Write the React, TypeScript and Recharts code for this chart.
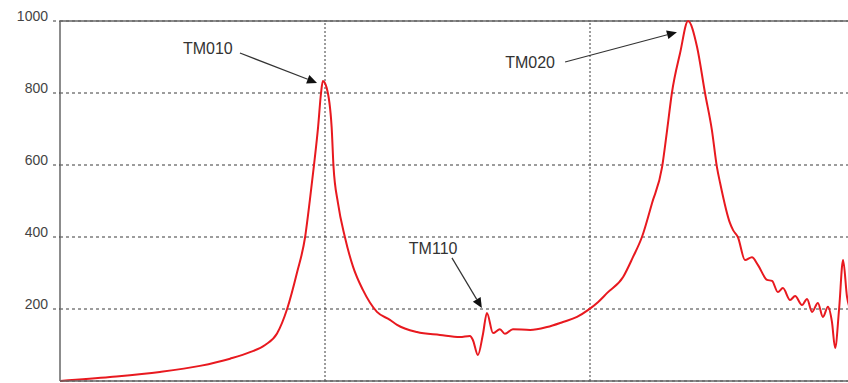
import React from 'react';
import {
  LineChart,
  Line,
  XAxis,
  YAxis,
  CartesianGrid,
  ReferenceLine,
  ReferenceDot,
} from 'recharts';

// sweep position (grid divisions) and response amplitude
const freq = [
  0, 0.189, 0.377, 0.528, 0.642, 0.717, 0.774, 0.819, 0.857, 0.894, 0.925, 0.943, 0.958, 0.974, 0.985, 0.992,
  1.006, 1.025, 1.032, 1.049, 1.075, 1.106, 1.143, 1.196, 1.245, 1.272, 1.347, 1.434, 1.509, 1.547,
  1.558, 1.577, 1.596, 1.611, 1.634, 1.66, 1.679, 1.709, 1.774, 1.838, 1.898, 1.951, 1.992, 2.03, 2.064,
  2.125, 2.162, 2.196, 2.234, 2.272, 2.291, 2.309, 2.34, 2.37, 2.404, 2.434, 2.46, 2.479, 2.491, 2.528,
  2.54, 2.558, 2.585, 2.611, 2.634, 2.668, 2.687, 2.709, 2.728, 2.755, 2.774, 2.8, 2.819, 2.838, 2.86,
  2.879, 2.898, 2.913, 2.925, 2.94, 2.955, 2.97, 2.981,
];
const amp = [
  0, 11, 25, 42, 62, 80, 100, 132, 200, 300, 400, 503, 597, 706, 800, 833,
  815, 706, 597, 494, 400, 317, 253, 192, 170, 156, 136, 128, 122, 125,
  114, 72, 130, 189, 133, 144, 131, 144, 142, 150, 164, 178, 197, 219, 244,
  289, 344, 400, 494, 594, 697, 800, 911, 1000, 928, 800, 697, 594, 550, 439,
  419, 400, 336, 344, 322, 281, 278, 247, 258, 225, 236, 211, 228, 192, 217,
  178, 206, 164, 92, 200, 336, 233, 200,
];

const yTicks = [0, 200, 400, 600, 800, 1000];
const xTicks = [0, 1, 2, 3];
const xGrid = [1, 2];

// mode annotations: label position, arrow tail and arrow tip (data units)
const modes = [
  { name: 'TM010', lx: 0.558, ly: 925, x1: 0.679, y1: 911, x2: 0.97, y2: 828 },
  { name: 'TM110', lx: 1.408, ly: 369, x1: 1.479, y1: 342, x2: 1.592, y2: 203 },
  { name: 'TM020', lx: 1.774, ly: 886, x1: 1.906, y1: 886, x2: 2.328, y2: 969 },
];

const data = freq.map((f, i) => ({ f, v: amp[i] }));

const AXIS = '#666';
const GRID = '#3a3a3a';
const font = '"Liberation Sans", Arial, sans-serif';

const YTick = (props: any) => {
  const { x, y, payload } = props;
  return (
    <text x={x} y={y - 5} textAnchor="end" dominantBaseline="central" fontSize={14} fontFamily={font} fill="#444">
      {payload.value}
    </text>
  );
};

const Arrow = (props: any) => {
  const { x1, y1, x2, y2 } = props;
  const a = Math.atan2(y2 - y1, x2 - x1);
  const len = 10;
  const w = 4.5;
  const bx = x2 - len * Math.cos(a);
  const by = y2 - len * Math.sin(a);
  const px = -Math.sin(a) * w;
  const py = Math.cos(a) * w;
  return (
    <g>
      <line x1={x1} y1={y1} x2={bx} y2={by} stroke="#333" strokeWidth={1.2} />
      <polygon points={`${x2},${y2} ${bx + px},${by + py} ${bx - px},${by - py}`} fill="#111" />
    </g>
  );
};

const Label = (name: string) => (props: any) => (
  <text x={props.cx} y={props.cy} textAnchor="middle" dominantBaseline="central" fontSize={16} fontFamily={font} fill="#333">
    {name}
  </text>
);

export default function App() {
  return (
    <div style={{ position: 'absolute', left: 0, top: 0, width: 848, height: 383, overflow: 'hidden', background: '#fff' }}>
      <LineChart width={860} height={383} data={data} margin={{ top: 21, right: 5, bottom: 0, left: 0 }}>
        <CartesianGrid vertical={false} stroke={GRID} strokeDasharray="3 3" />
        <XAxis
          dataKey="f"
          type="number"
          domain={[0, 3]}
          ticks={xTicks}
          tick={false}
          tickLine={false}
          height={2}
          axisLine={{ stroke: AXIS, strokeWidth: 1.5 }}
        />
        <YAxis
          type="number"
          domain={[0, 1000]}
          ticks={yTicks}
          width={60}
          tickSize={7}
          tickMargin={5}
          tick={<YTick />}
          tickLine={{ stroke: GRID, strokeDasharray: '3 3' }}
          axisLine={{ stroke: AXIS, strokeWidth: 1.5 }}
        />
        {xGrid.map((x) => (
          <ReferenceLine key={x} x={x} stroke={GRID} strokeDasharray="2 2" />
        ))}
        <ReferenceLine y={1000} stroke={AXIS} strokeWidth={1.5} />
        <Line type="monotone" dataKey="v" stroke="#e8191f" strokeWidth={2} dot={false} isAnimationActive={false} />
        {modes.map((m) => (
          <ReferenceLine
            key={m.name + '-arrow'}
            segment={[
              { x: m.x1, y: m.y1 },
              { x: m.x2, y: m.y2 },
            ]}
            shape={<Arrow />}
          />
        ))}
        {modes.map((m) => (
          <ReferenceDot key={m.name} x={m.lx} y={m.ly} r={1} shape={Label(m.name)} />
        ))}
      </LineChart>
    </div>
  );
}
